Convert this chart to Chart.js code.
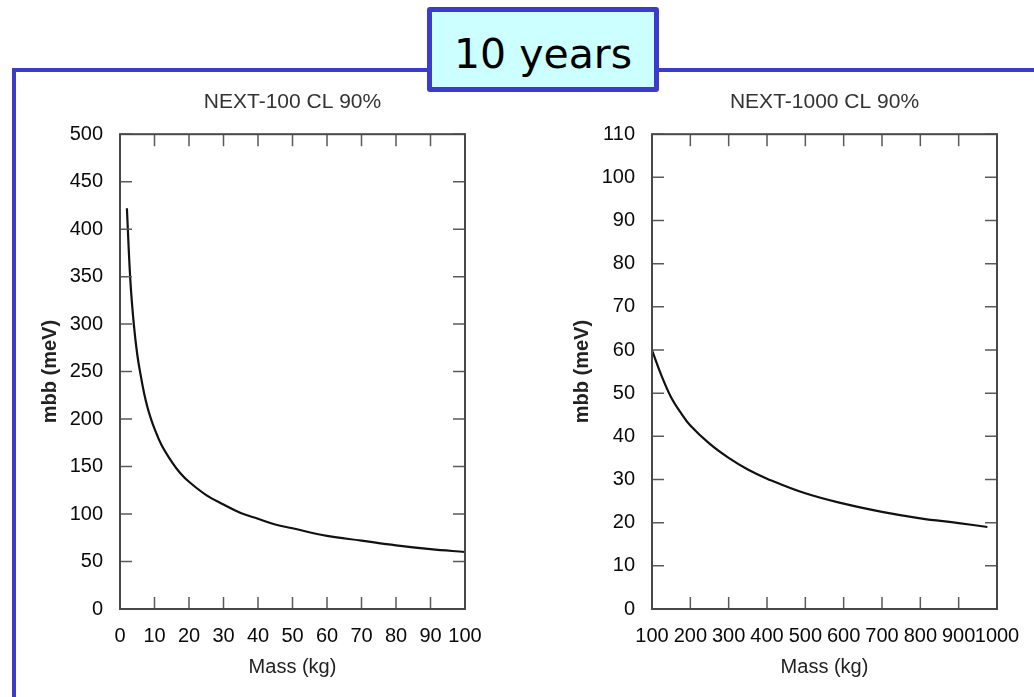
<!DOCTYPE html>
<html>
<head>
<meta charset="utf-8">
<script src="https://cdn.jsdelivr.net/npm/chart.js@4.4.0/dist/chart.umd.min.js"></script>
<style>
  body { margin: 0; background: #fff; width: 1034px; height: 697px; overflow: hidden; position: relative; }
  .frame-top { position: absolute; left: 12px; top: 68px; width: 1022px; height: 4px; background: #3c3ccc; }
  .frame-left { position: absolute; left: 12px; top: 68px; width: 4px; height: 629px; background: #3c3ccc; }
  .badge {
    position: absolute; left: 427px; top: 7px; width: 232px; height: 85px;
    box-sizing: border-box; border: 5px solid #3c3ccc; border-radius: 3px; background: #ccffff;
    font-family: 'DejaVu Sans', Verdana, sans-serif; font-size: 41px; color: #000;
    text-align: center; line-height: 84px;
  }
  canvas { position: absolute; }
</style>
</head>
<body>
<div class="frame-top"></div>
<div class="frame-left"></div>
<div class="badge">10 years</div>
<canvas id="chart100" width="460" height="610" style="left:30px;top:80px"></canvas>
<canvas id="chart1000" width="474" height="610" style="left:560px;top:80px"></canvas>
<script>
// NEXT-100, mass 0-100 kg
const massSmall = [2, 3, 4, 5, 6, 7, 8, 9, 10, 12, 15, 17.5, 20, 25, 30, 35, 40, 45, 50, 60, 70, 80, 90, 100];
const mbbSmall = [422, 346, 300, 268, 246, 227, 212, 200, 190, 173, 155, 143, 134, 120, 110, 101, 95, 89, 85, 77, 72, 67, 63, 60];
// NEXT-1000, mass 100-1000 kg
const massLarge = [100, 125, 150, 175, 200, 250, 300, 350, 400, 500, 600, 700, 800, 900, 975];
const mbbLarge = [60, 54, 49, 45.5, 42.5, 38.3, 35, 32.3, 30.2, 26.8, 24.4, 22.5, 21, 19.9, 19];

Chart.defaults.font.family = "'Liberation Sans', Arial, sans-serif";
Chart.defaults.color = '#0a0a0a';

// gnuplot style: ticks pointing inward on all four sides + box
const innerTicks = {
  id: 'innerTicks',
  afterDraw(chart) {
    const { ctx, chartArea: a, scales: { x, y } } = chart;
    ctx.save();
    ctx.strokeStyle = '#5a5a5a';
    ctx.lineWidth = 1.5;
    ctx.beginPath();
    x.ticks.forEach(t => {
      const px = x.getPixelForValue(t.value);
      ctx.moveTo(px, a.bottom); ctx.lineTo(px, a.bottom - 12);
      ctx.moveTo(px, a.top); ctx.lineTo(px, a.top + 12);
    });
    y.ticks.forEach(t => {
      const py = y.getPixelForValue(t.value);
      ctx.moveTo(a.left, py); ctx.lineTo(a.left + 12, py);
      ctx.moveTo(a.right, py); ctx.lineTo(a.right - 12, py);
    });
    ctx.stroke();
    ctx.strokeStyle = '#484848';
    ctx.lineWidth = 2;
    ctx.strokeRect(a.left, a.top, a.right - a.left, a.bottom - a.top);
    ctx.restore();
  }
};

function makeChart(id, title, xs, ys, xr, yr, yWidth, yTitlePad, padRight) {
  return new Chart(document.getElementById(id), {
    type: 'line',
    data: {
      datasets: [{
        data: xs.map((m, i) => ({ x: m, y: ys[i] })),
        borderColor: '#111',
        borderWidth: 2.2,
        pointRadius: 0,
        tension: 0.4
      }]
    },
    options: {
      responsive: false,
      animation: false,
      layout: { padding: { top: 0, right: padRight, bottom: 0, left: 0 } },
      plugins: {
        legend: { display: false },
        tooltip: { enabled: false },
        title: {
          display: true,
          text: title,
          fullSize: false,
          color: '#333',
          font: { size: 21, weight: 'normal' },
          padding: { top: 10, bottom: 19 }
        }
      },
      scales: {
        x: {
          type: 'linear',
          min: xr[0], max: xr[1],
          grid: { display: false, drawTicks: false },
          border: { display: false },
          ticks: {
            stepSize: xr[2], autoSkip: false, maxRotation: 0, minRotation: 0, padding: 15,
            font: { size: 20 },
            callback: v => String(v)
          },
          title: { display: true, text: 'Mass (kg)', color: '#222', font: { size: 20 }, padding: { top: 7, bottom: 11 } },
          afterFit(scale) {
            scale.height = 81;
            scale.paddingLeft = 0;
            scale.paddingRight = 0;
          }
        },
        y: {
          min: yr[0], max: yr[1],
          grid: { display: false, drawTicks: false },
          border: { display: false },
          ticks: { stepSize: yr[2], padding: 17, font: { size: 20 } },
          title: { display: true, text: 'mbb (meV)', color: '#222', font: { size: 20, weight: 'bold' }, padding: { top: yTitlePad, bottom: 0 } },
          afterFit(scale) {
            scale.width = yWidth;
            scale.paddingTop = 0;
            scale.paddingBottom = 0;
          }
        }
      }
    },
    plugins: [innerTicks]
  });
}

makeChart('chart100', 'NEXT-100 CL 90%', massSmall, mbbSmall, [0, 100, 10], [0, 500, 50], 90, 8, 25);
makeChart('chart1000', 'NEXT-1000 CL 90%', massLarge, mbbLarge, [100, 1000, 100], [0, 110, 10], 92, 10, 37);
</script>
</body>
</html>
